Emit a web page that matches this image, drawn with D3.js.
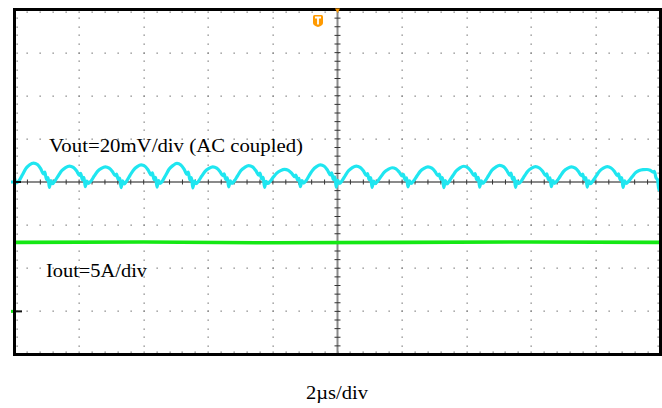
<!DOCTYPE html>
<html><head><meta charset="utf-8">
<script src="https://cdn.jsdelivr.net/npm/d3@7"></script>
<style>html,body{margin:0;padding:0;background:#fff}svg{display:block}</style>
</head><body><svg id="c" width="662" height="408"></svg>
<script>
// Vout ripple trace (time in µs, voltage in mV, AC coupled)
const voutTrace = [
[-10.00,1.9],[-9.95,-0.4],[-9.85,0.8],[-9.75,3.5],[-9.65,6.2],[-9.53,8.0],[-9.41,8.8],[-9.29,8.1],[-9.19,6.2],[-9.10,3.7],[-9.06,4.6],[-9.01,1.1],[-8.96,2.0],
[-8.92,-2.5],[-8.87,0.6],[-8.82,-0.8],[-8.74,0.7],[-8.64,3.0],[-8.54,5.2],[-8.42,6.7],[-8.30,7.4],[-8.18,6.8],[-8.08,5.2],[-7.99,3.1],[-7.95,4.0],[-7.90,1.0],[-7.85,2.1],
[-7.81,-2.2],[-7.76,0.4],[-7.71,-0.6],[-7.63,0.5],[-7.53,2.8],[-7.43,4.9],[-7.31,6.3],[-7.19,7.0],[-7.07,6.4],[-6.97,4.9],[-6.88,2.9],[-6.84,3.7],[-6.79,1.2],[-6.74,1.8],
[-6.70,-2.6],[-6.65,0.5],[-6.60,-0.9],[-6.52,0.6],[-6.42,3.2],[-6.32,5.5],[-6.20,7.1],[-6.08,7.9],[-5.96,7.3],[-5.86,5.5],[-5.77,3.3],[-5.73,4.2],[-5.68,1.1],[-5.63,2.2],
[-5.59,-2.4],[-5.54,0.6],[-5.49,-0.7],[-5.41,0.7],[-5.31,3.4],[-5.21,6.0],[-5.09,7.7],[-4.97,8.6],[-4.85,7.9],[-4.75,6.0],[-4.66,3.6],[-4.62,4.6],[-4.57,1.0],[-4.52,2.0],
[-4.48,-2.7],[-4.43,0.4],[-4.38,-0.8],[-4.30,0.5],[-4.20,2.8],[-4.10,4.9],[-3.98,6.3],[-3.86,7.0],[-3.74,6.4],[-3.64,4.9],[-3.55,2.9],[-3.51,3.8],[-3.46,1.2],[-3.41,1.9],
[-3.37,-2.3],[-3.32,0.5],[-3.27,-0.6],[-3.19,0.6],[-3.09,3.0],[-2.99,5.3],[-2.87,6.8],[-2.75,7.6],[-2.63,7.0],[-2.53,5.3],[-2.44,3.2],[-2.40,4.1],[-2.35,1.4],[-2.30,2.1],
[-2.26,-2.5],[-2.21,0.3],[-2.16,-0.7],[-2.08,0.4],[-1.98,2.4],[-1.88,4.1],[-1.76,5.3],[-1.64,5.9],[-1.52,5.4],[-1.42,4.1],[-1.33,2.5],[-1.29,3.2],[-1.24,1.0],[-1.19,1.7],
[-1.15,-2.2],[-1.10,0.6],[-1.05,-0.5],[-0.97,0.7],[-0.87,3.2],[-0.77,5.5],[-0.65,7.1],[-0.53,7.9],[-0.41,7.3],[-0.31,5.5],[-0.22,3.3],[-0.18,4.2],[-0.13,1.2],[-0.08,2.4],
[-0.04,-2.4],[0.01,0.8],[0.06,-0.6],[0.14,0.6],[0.24,3.0],[0.34,5.2],[0.46,6.7],[0.58,7.4],[0.70,6.8],[0.80,5.2],[0.89,3.1],[0.93,3.9],[0.98,1.1],[1.03,2.0],
[1.07,-2.5],[1.12,0.4],[1.17,-0.8],[1.25,0.5],[1.35,2.6],[1.45,4.6],[1.57,5.9],[1.69,6.6],[1.81,6.1],[1.91,4.6],[2.00,2.8],[2.04,3.5],[2.09,1.0],[2.14,1.9],
[2.18,-2.3],[2.23,0.5],[2.28,-0.7],[2.36,0.6],[2.46,2.8],[2.56,4.9],[2.68,6.3],[2.80,7.0],[2.92,6.4],[3.02,4.9],[3.11,2.9],[3.15,3.7],[3.20,1.3],[3.25,2.0],
[3.29,-2.6],[3.34,0.6],[3.39,-0.9],[3.47,0.6],[3.57,2.9],[3.67,5.1],[3.79,6.6],[3.91,7.3],[4.03,6.7],[4.13,5.1],[4.22,3.1],[4.26,3.9],[4.31,1.1],[4.36,2.1],
[4.40,-2.4],[4.45,0.5],[4.50,-0.6],[4.58,0.7],[4.68,3.1],[4.78,5.4],[4.90,6.9],[5.02,7.7],[5.14,7.1],[5.24,5.4],[5.33,3.2],[5.37,4.1],[5.42,1.2],[5.47,2.2],
[5.51,-2.5],[5.56,0.4],[5.61,-0.7],[5.69,0.5],[5.79,2.8],[5.89,5.0],[6.01,6.4],[6.13,7.1],[6.25,6.5],[6.35,5.0],[6.44,3.0],[6.48,3.8],[6.53,1.0],[6.58,1.9],
[6.62,-2.2],[6.67,0.6],[6.72,-0.6],[6.80,0.6],[6.90,2.8],[7.00,4.9],[7.12,6.3],[7.24,7.0],[7.36,6.4],[7.46,4.9],[7.55,2.9],[7.59,3.7],[7.64,1.2],[7.69,2.0],
[7.73,-2.4],[7.78,0.5],[7.83,-0.8],[7.91,0.6],[8.01,2.8],[8.11,5.0],[8.23,6.4],[8.35,7.1],[8.47,6.5],[8.57,5.0],[8.66,3.0],[8.70,3.8],[8.75,1.1],[8.80,2.0],
[8.84,-2.5],[8.89,0.5],[8.94,-0.7],[9.02,0.5],[9.12,2.4],[9.22,4.2],[9.34,5.3],[9.46,5.7],[9.58,5.8],[9.68,5.5],[9.77,4.6],[9.81,4.9],[9.86,2.0],[9.91,1.0],
[9.95,-3.7],[10.00,-1.0]
];
// Iout trace (time in µs, current in A)
const ioutTimes = [-10, -6, -2, 2, 6, 10];
const ioutAmps  = [8.0, 8.05, 7.95, 8.0, 8.05, 8.0];
// scope settings
const timeDomain = [-10, 10];      // µs, 2 µs/div, 10 div
const voutDomain = [-80, 80];      // mV, 20 mV/div, 8 div
const ioutDomain = [-5, 35];       // A, 5 A/div, ground 3 div below centre
const labels = {vout: "Vout=20mV/div (AC coupled)", iout: "Iout=5A/div", time: "2µs/div"};

const svg = d3.select("#c");
const L = 14.5, R = 660.5, T = 9.5, B = 354.5;
const x = d3.scaleLinear().domain(timeDomain).range([L, R]);
const yDiv = d3.scaleLinear().domain([-4, 4]).range([B, T]);
const yV = d3.scaleLinear().domain(voutDomain).range([B, T]);
const yI = d3.scaleLinear().domain(ioutDomain).range([B, T]);

svg.append("rect").attr("width", 662).attr("height", 408).attr("fill", "#fff");

const xMajor = d3.range(-4, 5).map(i => i * 2);
const yMajor = d3.range(-3, 4);
const xMinor = d3.range(-24, 25).map(i => i * 0.4);
const yMinor = d3.range(-19, 20).map(i => i * 0.2);

const g = svg.append("g");
const dot = (cx, cy, col) => g.append("rect").attr("x", Math.round(cx) - 0.5).attr("y", Math.round(cy) - 0.5)
  .attr("width", 1.3).attr("height", 1.3).attr("fill", col || "#808080");

xMajor.filter(t => t !== 0).forEach(t => yMinor.forEach(v => dot(x(t), yDiv(v))));
yMajor.filter(v => v !== 0).forEach(v => xMinor.forEach(t => dot(x(t), yDiv(v))));
yMinor.forEach(v => { dot(L + 2.5, yDiv(v)); dot(R - 2.5, yDiv(v)); });
xMinor.forEach(t => { dot(x(t), T + 2.5); dot(x(t), B - 2.5); });

// centre axes
g.append("line").attr("x1", L).attr("x2", R).attr("y1", yDiv(0)).attr("y2", yDiv(0))
  .attr("stroke", "#8a8a8a").attr("stroke-width", 2);
g.append("line").attr("x1", x(0)).attr("x2", x(0)).attr("y1", T).attr("y2", B)
  .attr("stroke", "#8a8a8a").attr("stroke-width", 2);
xMinor.forEach(t => g.append("line").attr("x1", x(t)).attr("x2", x(t))
  .attr("y1", yDiv(0) - 2.5).attr("y2", yDiv(0) + 2.5).attr("stroke", "#333").attr("stroke-width", 1));
yMinor.forEach(v => g.append("line").attr("y1", yDiv(v)).attr("y2", yDiv(v))
  .attr("x1", x(0) - 3).attr("x2", x(0) + 3).attr("stroke", "#333").attr("stroke-width", 1));

// traces
const lineV = d3.line().x(d => x(d[0])).y(d => yV(d[1])).curve(d3.curveMonotoneX);
svg.append("path").datum(voutTrace).attr("d", lineV).attr("fill", "none")
  .attr("stroke", "#1fe6f0").attr("stroke-width", 3.2).attr("stroke-linejoin", "round");

const lineI = d3.line().x((d, i) => x(ioutTimes[i])).y(d => yI(d));
svg.append("path").datum(ioutAmps).attr("d", lineI).attr("fill", "none")
  .attr("stroke", "#14e814").attr("stroke-width", 3.6);

// ground markers
svg.append("line").attr("x1", 13).attr("x2", 21).attr("y1", yV(0)).attr("y2", yV(0))
  .attr("stroke", "#111").attr("stroke-width", 2);
svg.append("rect").attr("x", 11).attr("y", yV(0) - 1.5).attr("width", 3).attr("height", 3).attr("fill", "#1fe6f0");
svg.append("line").attr("x1", 13).attr("x2", 22).attr("y1", yI(0)).attr("y2", yI(0))
  .attr("stroke", "#111").attr("stroke-width", 2);
svg.append("rect").attr("x", 11).attr("y", yI(0) - 1.5).attr("width", 3).attr("height", 3).attr("fill", "#14e814");

// border
svg.append("rect").attr("x", L).attr("y", T).attr("width", R - L).attr("height", B - T)
  .attr("fill", "none").attr("stroke", "#000").attr("stroke-width", 3);

// trigger markers
svg.append("path").attr("d", `M${x(0)-2.5},${T-1} L${x(0)+2.5},${T-1} L${x(0)},${T+3.5} Z`).attr("fill", "#ff9a00");
const tx = 318, ty = 15;
svg.append("path").attr("d", `M${tx-5},${ty+1.5} Q${tx-5},${ty} ${tx-3.5},${ty} L${tx+3.5},${ty} Q${tx+5},${ty} ${tx+5},${ty+1.5} L${tx+5},${ty+8} Q${tx+5},${ty+10.5} ${tx},${ty+12} Q${tx-5},${ty+10.5} ${tx-5},${ty+8} Z`)
  .attr("fill", "#ff9a00");
svg.append("path").attr("d", `M${tx-3},${ty+2.5} L${tx+3},${ty+2.5} M${tx},${ty+2.5} L${tx},${ty+9.5}`)
  .attr("stroke", "#fff").attr("stroke-width", 1.8).attr("fill", "none");

// labels
const font = "'Liberation Serif','Times New Roman',serif";
const addText = (s, px, py, w) => svg.append("text").attr("x", px).attr("y", py).text(s)
  .attr("font-family", font).attr("font-size", 18.5).attr("fill", "#000")
  .attr("textLength", w).attr("lengthAdjust", "spacingAndGlyphs");
addText(labels.vout, 49, 152, 254);
addText(labels.iout, 46, 277, 101);
addText(labels.time, 306, 399, 62);
</script></body></html>
